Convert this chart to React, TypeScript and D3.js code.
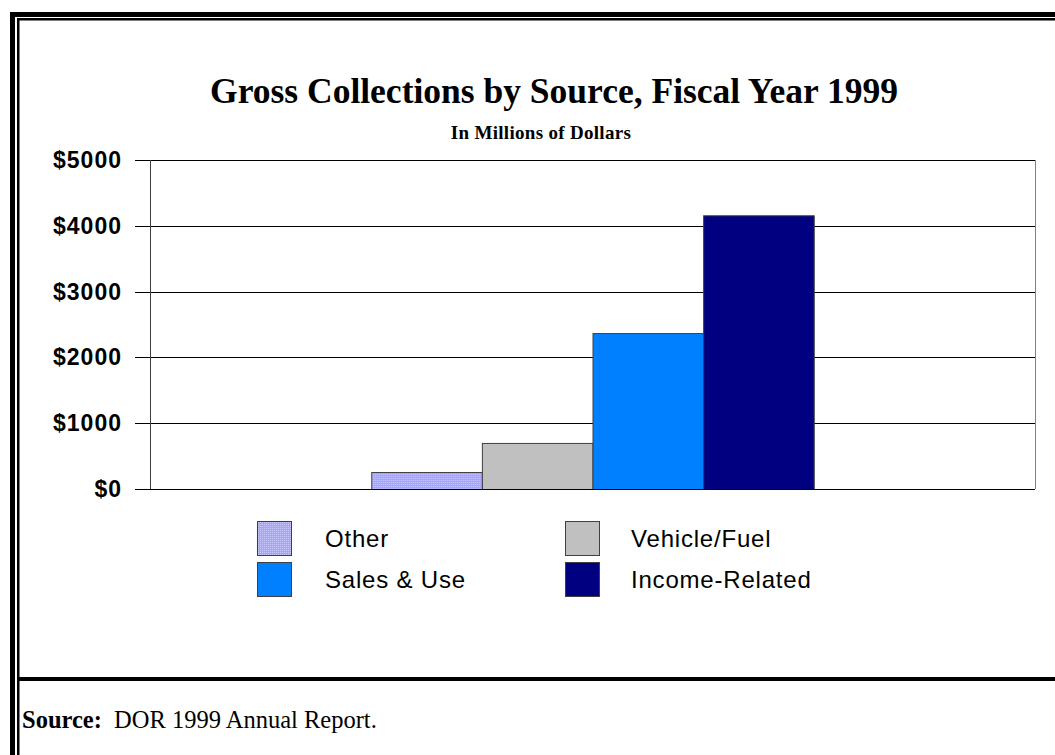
import React from "react";
import * as d3 from "d3";

const categories = ["FY1999"];
const seriesNames = ["Other", "Vehicle/Fuel", "Sales & Use", "Income-Related"];
const seriesValues = [258, 700, 2370, 4160];
const seriesColors = ["url(#otherPattern)", "#c0c0c0", "#0080ff", "#000080"];
const legendSwatch = ["url(#otherPattern)", "#c0c0c0", "#0080ff", "#000080"];
const yTicks = [0, 1000, 2000, 3000, 4000, 5000];
const yTickLabels = ["$0", "$1000", "$2000", "$3000", "$4000", "$5000"];

const W = 1055;
const H = 755;
const plot = { left: 150, right: 1035, top: 160, bottom: 489 };

export default function App() {
  const y = d3.scaleLinear().domain([0, 5000]).range([plot.bottom, plot.top]);
  const x0 = d3
    .scaleBand<string>()
    .domain(categories)
    .range([plot.left, plot.right])
    .paddingInner(0)
    .paddingOuter(0.5);
  const x1 = d3
    .scaleBand<string>()
    .domain(seriesNames)
    .range([0, x0.bandwidth()])
    .padding(0);

  const sans = "'Liberation Sans', Arial, sans-serif";
  const serif = "'Liberation Serif', 'Times New Roman', serif";

  const legendPos = [
    { sx: 257, sy: 521, tx: 325, ty: 547 },
    { sx: 565, sy: 521, tx: 631, ty: 547 },
    { sx: 257, sy: 562, tx: 325, ty: 588 },
    { sx: 565, sy: 562, tx: 631, ty: 588 },
  ];

  return (
    <svg
      width={W}
      height={H}
      style={{ position: "absolute", left: 0, top: 0, background: "#fff" }}
    >
      <defs>
        <pattern id="otherPattern" width="2" height="2" patternUnits="userSpaceOnUse">
          <rect width="2" height="2" fill="#a6a6f8" />
          <rect width="1" height="1" fill="#c8c8ff" />
        </pattern>
      </defs>
      <rect width={W} height={H} fill="#fff" />
      {/* Double border */}
      <rect x={10} y={12} width={W} height={5} fill="#000" />
      <rect x={17} y={18} width={W} height={2.5} fill="#000" />
      <rect x={10} y={12} width={5} height={H} fill="#000" />
      <rect x={17} y={18} width={2.5} height={H} fill="#000" />
      <rect x={17} y={677} width={W} height={4} fill="#000" />

      {/* Title */}
      <text
        x={554}
        y={103}
        textAnchor="middle"
        fontFamily={serif}
        fontWeight="bold"
        fontSize={35.5}
      >
        Gross Collections by Source, Fiscal Year 1999
      </text>
      <text
        x={541}
        y={139}
        textAnchor="middle"
        fontFamily={serif}
        fontWeight="bold"
        fontSize={19}
        letterSpacing={0.3}
      >
        In Millions of Dollars
      </text>

      {/* Gridlines */}
      {yTicks.map((t) => (
        <line
          key={"g" + t}
          x1={plot.left - 15}
          x2={plot.right}
          y1={Math.round(y(t)) + 0.5}
          y2={Math.round(y(t)) + 0.5}
          stroke="#000"
          strokeWidth={1}
        />
      ))}
      {/* Axis and right border */}
      <line x1={plot.left + 0.5} x2={plot.left + 0.5} y1={plot.top} y2={plot.bottom} stroke="#404040" />
      <line x1={plot.right + 0.5} x2={plot.right + 0.5} y1={plot.top} y2={plot.bottom} stroke="#808080" />

      {/* Tick labels */}
      {yTicks.map((t, i) => (
        <text
          key={"t" + t}
          x={122}
          y={y(t) + 8}
          textAnchor="end"
          fontFamily={sans}
          fontWeight="bold"
          fontSize={23}
          letterSpacing={1}
        >
          {yTickLabels[i]}
        </text>
      ))}

      {/* Bars */}
      {categories.map((c) => (
        <g key={c} transform={`translate(${x0(c)},0)`}>
          {seriesNames.map((s, i) => (
            <rect
              key={s}
              x={(x1(s) as number) + 0.5}
              y={y(seriesValues[i]) + 0.5}
              width={x1.bandwidth()}
              height={y(0) - y(seriesValues[i])}
              fill={seriesColors[i]}
              stroke="#404040"
              strokeWidth={1}
            />
          ))}
        </g>
      ))}
      <line x1={plot.left} x2={plot.right} y1={plot.bottom + 0.5} y2={plot.bottom + 0.5} stroke="#000" />

      {/* Legend */}
      {seriesNames.map((s, i) => (
        <g key={"l" + s}>
          <rect
            x={legendPos[i].sx + 0.5}
            y={legendPos[i].sy + 0.5}
            width={34}
            height={34}
            fill={legendSwatch[i]}
            stroke="#404040"
          />
          <text
            x={legendPos[i].tx}
            y={legendPos[i].ty}
            fontFamily={sans}
            fontSize={24}
            letterSpacing={0.8}
          >
            {s}
          </text>
        </g>
      ))}

      {/* Source */}
      <text x={22} y={728} fontFamily={serif} fontSize={24.5}>
        <tspan fontWeight="bold">Source:</tspan>
        <tspan>{"\u00a0\u00a0DOR 1999 Annual Report."}</tspan>
      </text>
    </svg>
  );
}
